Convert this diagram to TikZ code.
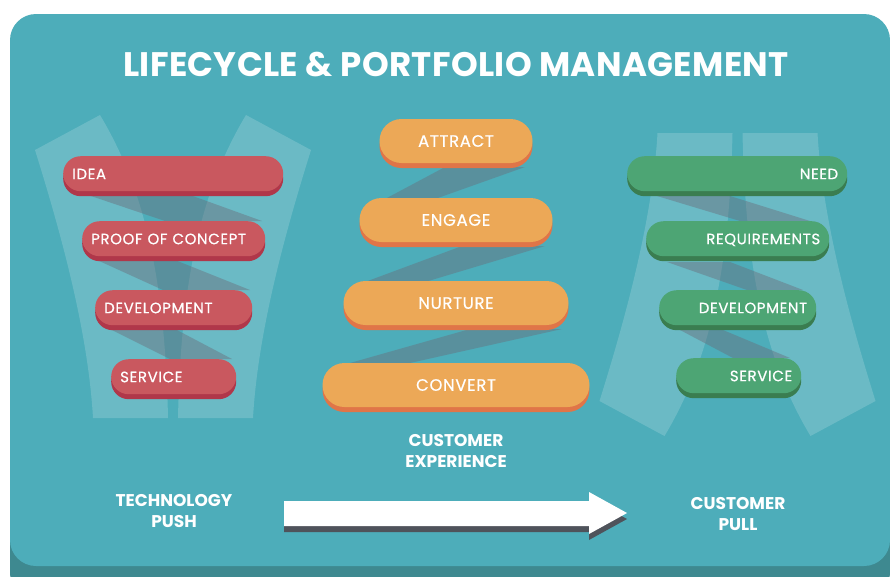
\documentclass[tikz,border=0pt]{standalone}
\usepackage{fontspec}
\newfontfamily\popfont{Poppins}
\newfontfamily\pillfont{Poppins}[UprightFeatures={FakeBold=0.5}, LetterSpace=4]
\newfontfamily\headfont{Poppins}[LetterSpace=1]
\usetikzlibrary{shadows}

\definecolor{bgteal}{HTML}{4DADBA}
\definecolor{bgshade}{HTML}{3E8990}
\definecolor{redfill}{HTML}{C9585F}
\definecolor{redshade}{HTML}{B0374A}
\definecolor{orangefill}{HTML}{ECA857}
\definecolor{orangeshade}{HTML}{E07548}
\definecolor{greenfill}{HTML}{4DA574}
\definecolor{greenshade}{HTML}{3A7D50}
\definecolor{arrowshade}{HTML}{4F535B}
\definecolor{bandgray}{RGB}{105,110,122}

\tikzset{
  strip/.style={fill=white, fill opacity=0.17},
  band/.style={fill=bandgray, fill opacity=0.45},
  pill/.style={rectangle, inner ysep=0pt, text=white,
    text height=11pt, text depth=0pt},
  sidepill/.style={pill, anchor=north west, rounded corners=17.5pt,
    minimum height=35pt, inner xsep=9pt,
    font=\pillfont\fontsize{15}{15}\selectfont},
  redpill/.style={sidepill, align=left, fill=redfill,
    general shadow={fill=redshade, shadow yshift=-5pt}},
  greenpill/.style={sidepill, align=right, fill=greenfill,
    general shadow={fill=greenshade, shadow yshift=-5pt}},
  orangepill/.style={pill, rounded corners=22pt, minimum height=44pt,
    fill=orangefill, font=\pillfont\fontsize{16.5}{16.5}\selectfont,
    text height=11.5pt,
    general shadow={fill=orangeshade, shadow yshift=-5pt}},
  caption/.style={text=white, align=center,
    font=\popfont\bfseries\fontsize{17}{21}\selectfont},
  heading/.style={text=white,
    font=\headfont\bfseries\fontsize{34}{34}\selectfont}
}

\begin{document}
\begin{tikzpicture}[x=1pt, y=-1pt]
\useasboundingbox (0,0) rectangle (890,576);

% panel with its darker lower edge
\fill[bgshade, rounded corners=28pt] (10,24) rectangle (890,600);
\fill[bgteal, rounded corners=26pt] (10,14) rectangle (890,566);

% title
\node[heading] (title) at (456,65) {LIFECYCLE \& PORTFOLIO MANAGEMENT};

% translucent funnel behind the push column (narrow end at the bottom)
\fill[strip] (93,418) -- (168,418)
  .. controls (165,280) and (145,190) .. (100,115) -- (35,150)
  .. controls (60,230) and (88,330) .. (93,418) -- cycle;
\fill[strip] (253,418) -- (178,418)
  .. controls (181,280) and (201,190) .. (246,115) -- (311,150)
  .. controls (286,230) and (258,330) .. (253,418) -- cycle;

% translucent funnel behind the pull column (narrow end at the top)
\fill[strip] (657.5,133) -- (732.5,133)
  .. controls (729.5,271) and (709.5,361) .. (664.5,436) -- (599.5,401)
  .. controls (624.5,321) and (652.5,221) .. (657.5,133) -- cycle;
\fill[strip] (817.5,133) -- (742.5,133)
  .. controls (745.5,271) and (765.5,361) .. (810.5,436) -- (875.5,401)
  .. controls (850.5,321) and (822.5,221) .. (817.5,133) -- cycle;

% folded ribbon between the pills
\fill[band] (88,195) -- (190,195) -- (262,221) -- (165,221) -- cycle;
\fill[band] (97,260) -- (175,260) -- (250,290) -- (163,290) -- cycle;
\fill[band] (110,329) -- (175,329) -- (232,359) -- (170,359) -- cycle;

\fill[band] (445,167) -- (525,167) -- (435,199) -- (385,199) -- cycle;
\fill[band] (462,246) -- (545,246) -- (425,282) -- (365,282) -- cycle;
\fill[band] (470,329) -- (562,329) -- (410,363) -- (350,363) -- cycle;

\fill[band] (657,196) -- (730,196) -- (810,221) -- (740,221) -- cycle;
\fill[band] (667,262) -- (730,262) -- (803,290) -- (747,290) -- cycle;
\fill[band] (680,330) -- (723,330) -- (790,358) -- (733,358) -- cycle;

% technology push column
\node[redpill, text width=202pt] (idea) at (63,156) {IDEA};
\node[redpill, text width=165pt] (poc)  at (82,221) {PROOF OF CONCEPT};
\node[redpill, text width=139pt] (rdev) at (95,290) {DEVELOPMENT};
\node[redpill, text width=107pt] (rsrv) at (111,359) {SERVICE};

% customer experience column
\node[orangepill, minimum width=153pt] (attract) at (456,141) {ATTRACT};
\node[orangepill, minimum width=193pt] (engage)  at (456,220) {ENGAGE};
\node[orangepill, minimum width=225pt] (nurture) at (456,303) {NURTURE};
\node[orangepill, minimum width=267pt] (convert) at (456,385) {CONVERT};

% customer pull column
\node[greenpill, text width=202pt] (need) at (627,156) {NEED};
\node[greenpill, text width=165pt] (req)  at (646,221) {REQUIREMENTS};
\node[greenpill, text width=139pt] (gdev) at (659,290) {DEVELOPMENT};
\node[greenpill, text width=107pt] (gsrv) at (676,358) {SERVICE};

% column captions
\node[caption] (cx)   at (456,451) {CUSTOMER\\EXPERIENCE};
\node[caption] (push) at (174,511) {TECHNOLOGY\\PUSH};
\node[caption] (pull) at (738,514) {CUSTOMER\\PULL};

% push-to-pull arrow
\fill[arrowshade] (284,507) -- (589,507) -- (589,498) -- (627,519)
  -- (589,540) -- (589,532) -- (284,532) -- cycle;
\fill[white] (284,501) -- (589,501) -- (589,492) -- (627,513)
  -- (589,534) -- (589,526) -- (284,526) -- cycle;
\end{tikzpicture}
\end{document}
